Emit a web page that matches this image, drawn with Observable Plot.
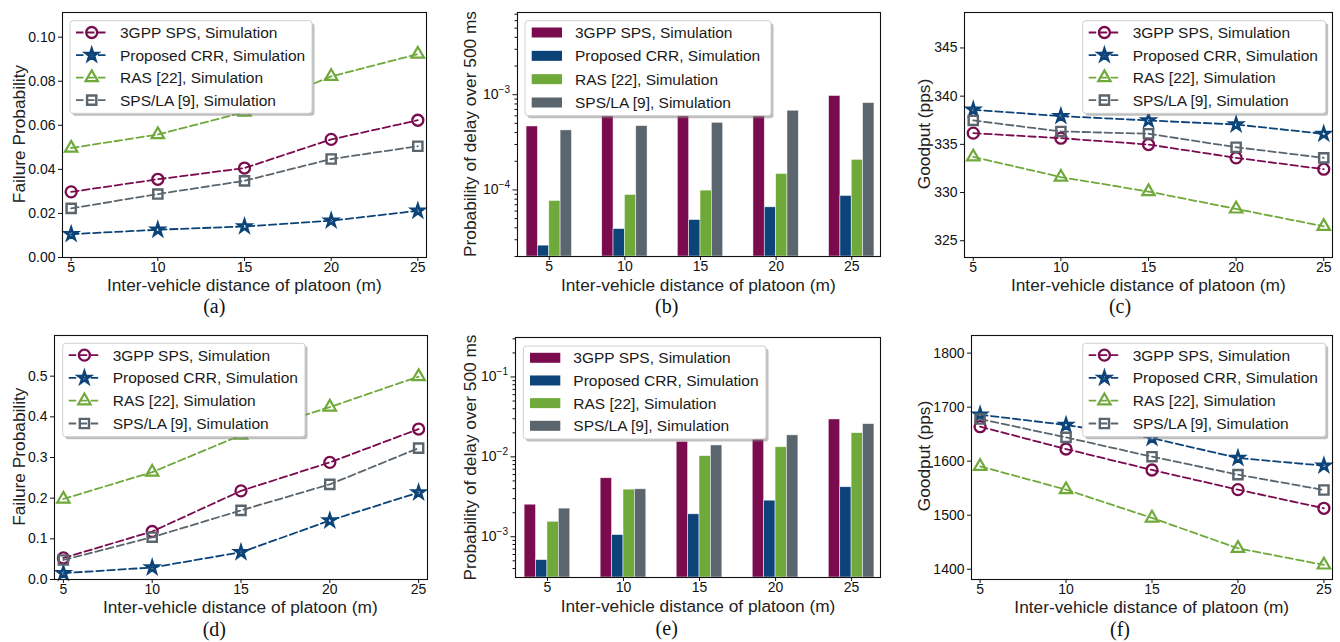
<!DOCTYPE html>
<html>
<head>
<meta charset="utf-8">
<script src="https://cdn.jsdelivr.net/npm/d3@7"></script>
<script src="https://cdn.jsdelivr.net/npm/@observablehq/plot@0.6"></script>
<style>
  html, body { margin: 0; padding: 0; background: white; }
  #page { position: relative; width: 1340px; height: 642px; overflow: hidden; background: white; }
  .panel { position: absolute; }
  #overlay { position: absolute; left: 0; top: 0; pointer-events: none; }
</style>
</head>
<body>
<div id="page"></div>
<script>
// ---------------- data ----------------
const distances = [5, 10, 15, 20, 25];
const seriesNames = ["3GPP SPS, Simulation", "Proposed CRR, Simulation", "RAS [22], Simulation", "SPS/LA [9], Simulation"];
const seriesColors = ["#7a0b4f", "#0c4479", "#6fa93a", "#5b656d"];
const seriesSymbols = ["circle", "star", "triangle", "square"];

// (a) failure probability, low density
const failureLow = [
  [0.0298, 0.0355, 0.0406, 0.0536, 0.0623],
  [0.0106, 0.0126, 0.0141, 0.0167, 0.0212],
  [0.0497, 0.0558, 0.0660, 0.0822, 0.0923],
  [0.0223, 0.0288, 0.0348, 0.0447, 0.0505]
];
// (b) probability of delay over 500 ms, low density
const delayLow = [
  [4.64e-4, 6.3e-4, 7.0e-4, 8.0e-4, 9.7e-4],
  [2.6e-5, 3.88e-5, 4.83e-5, 6.57e-5, 8.65e-5],
  [7.66e-5, 8.86e-5, 9.84e-5, 1.47e-4, 2.07e-4],
  [4.22e-4, 4.68e-4, 5.07e-4, 6.79e-4, 8.17e-4]
];
// (c) goodput, low density
const goodputLow = [
  [336.16, 335.64, 334.98, 333.60, 332.42],
  [338.59, 337.93, 337.48, 337.06, 336.09],
  [333.70, 331.60, 330.10, 328.30, 326.50],
  [337.48, 336.34, 336.10, 334.70, 333.60]
];
// (d) failure probability, high density
const failureHigh = [
  [0.053, 0.118, 0.218, 0.288, 0.370],
  [0.0156, 0.0295, 0.067, 0.145, 0.214],
  [0.198, 0.264, 0.355, 0.424, 0.499],
  [0.048, 0.104, 0.170, 0.234, 0.323]
];
// (e) probability of delay over 500 ms, high density
const delayHigh = [
  [2.52e-3, 5.4e-3, 1.54e-2, 2.1e-2, 2.94e-2],
  [5.1e-4, 1.05e-3, 1.91e-3, 2.83e-3, 4.17e-3],
  [1.54e-3, 3.89e-3, 1.02e-2, 1.32e-2, 1.98e-2],
  [2.25e-3, 3.93e-3, 1.39e-2, 1.86e-2, 2.57e-2]
];
// (f) goodput, high density
const goodputHigh = [
  [1663.8, 1622.5, 1583.7, 1547.3, 1512.8],
  [1686.0, 1666.9, 1642.8, 1605.9, 1591.7],
  [1590.4, 1547.3, 1494.9, 1438.8, 1408.0],
  [1678.0, 1644.0, 1608.3, 1575.0, 1546.7]
];

// tick labels
const failureLowTicks = [0, 0.02, 0.04, 0.06, 0.08, 0.10];
const failureHighTicks = [0, 0.1, 0.2, 0.3, 0.4, 0.5];
const goodputLowTicks = [325, 330, 335, 340, 345];
const goodputHighTicks = [1400, 1500, 1600, 1700, 1800];
const delayLowTicks = [1e-4, 1e-3];
const delayLowMinor = [2e-5,3e-5,4e-5,5e-5,6e-5,7e-5,8e-5,9e-5,2e-4,3e-4,4e-4,5e-4,6e-4,7e-4,8e-4,9e-4,2e-3,3e-3,4e-3,5e-3,6e-3,7e-3];
const delayHighTicks = [1e-3, 1e-2, 1e-1];
const delayHighMinor = [4e-4,5e-4,6e-4,7e-4,8e-4,9e-4,2e-3,3e-3,4e-3,5e-3,6e-3,7e-3,8e-3,9e-3,2e-2,3e-2,4e-2,5e-2,6e-2,7e-2,8e-2,9e-2,2e-1,3e-1];

const xLabel = "Inter-vehicle distance of platoon (m)";
// ---------------- helpers ----------------
const FONT = "'Liberation Sans', Arial, Helvetica, sans-serif";
const symbolRadius = {circle: 5.5, star: 3.7, triangle: 4.6, square: 5.2};
const symbolStroke = {circle: 2.3, star: 2.6, triangle: 2.2, square: 2.4};
const page = document.getElementById("page");

function toRows(values) {
  const rows = [];
  values.forEach((vals, s) => vals.forEach((v, i) => rows.push({s, name: seriesNames[s], dist: distances[i], v})));
  return rows;
}

function place(el, left, top) {
  const div = document.createElement("div");
  div.className = "panel";
  div.style.left = left + "px";
  div.style.top = top + "px";
  div.appendChild(el);
  page.appendChild(div);
}

function linePanel(p) {
  const rows = toRows(p.values);
  const marks = [];
  seriesNames.forEach((name, s) => {
    const d = rows.filter(r => r.s === s);
    const sym = seriesSymbols[s];
    marks.push(Plot.line(d, {x: "dist", y: "v", stroke: seriesColors[s], strokeWidth: 1.8, strokeDasharray: "7.5,3.5"}));
    marks.push(Plot.dot(d, {x: "dist", y: "v", stroke: seriesColors[s], fill: "none", strokeWidth: symbolStroke[sym],
      strokeLinejoin: "miter", symbol: sym, r: symbolRadius[sym]}));
  });
  const chart = Plot.plot({
    width: p.width, height: p.height,
    marginLeft: p.m[0], marginTop: p.m[1], marginRight: p.m[2], marginBottom: p.m[3],
    style: {fontFamily: FONT, fontSize: "14px", color: "#111", background: "transparent", overflow: "visible"},
    x: {domain: [4.5, 25.5]},
    y: {domain: p.yDomain},
    marks: [
      Plot.axisX({ticks: distances, tickSize: 4, tickPadding: 1, label: null, fontSize: 14}),
      Plot.axisY({ticks: p.yTicks, tickFormat: p.yFormat, tickSize: 4, tickPadding: 3, label: null, fontSize: 14}),
      ...marks,
      Plot.frame({stroke: "#111", strokeWidth: 1.1})
    ]
  });
  place(chart, p.left, p.top);
}

function barPanel(p) {
  const rows = toRows(p.values);
  const halfW = 0.375;
  const offsets = [-1.125, -0.375, 0.375, 1.125];
  const chart = Plot.plot({
    width: p.width, height: p.height,
    marginLeft: p.m[0], marginTop: p.m[1], marginRight: p.m[2], marginBottom: p.m[3],
    style: {fontFamily: FONT, fontSize: "14px", color: "#111", background: "transparent", overflow: "visible"},
    x: {domain: [2.9, 26.9]},
    y: {type: "log", domain: p.yDomain},
    color: {domain: seriesNames, range: seriesColors},
    marks: [
      Plot.rect(rows, {
        x1: d => d.dist + offsets[d.s] - halfW,
        x2: d => d.dist + offsets[d.s] + halfW,
        y1: p.yDomain[0], y2: "v",
        fill: "name", stroke: "white", strokeWidth: 0.7, strokeOpacity: 0.7
      }),
      Plot.axisX({ticks: distances, tickSize: 4, tickPadding: 1, label: null, fontSize: 14}),
      Plot.axisY({ticks: p.minor, tickSize: 2.5, tickFormat: () => "", label: null}),
      Plot.axisY({ticks: p.yTicks, tickFormat: d => "10^" + Math.round(Math.log10(d)), tickSize: 4.5, tickPadding: 3, label: null, fontSize: 14}),
      Plot.frame({stroke: "#111", strokeWidth: 1.1})
    ]
  });
  // superscript exponents
  d3.select(chart).selectAll('g[aria-label="y-axis tick label"] text').each(function () {
    const t = this.textContent;
    if (t.startsWith("10^")) {
      const e = t.slice(3).replace("-", "\u2212");
      const sel = d3.select(this);
      sel.text(null);
      sel.append("tspan").text("10");
      sel.append("tspan").attr("dy", "-0.62em").attr("font-size", "10px").text(e);
    }
  });
  place(chart, p.left, p.top);
}

// ---------------- panels ----------------
linePanel({left: 0, top: 0, width: 440, height: 300, m: [62, 12, 14, 43],
  values: failureLow, yDomain: [0, 0.1112], yTicks: failureLowTicks, yFormat: d3.format(".2f")});
barPanel({left: 440, top: 0, width: 450, height: 300, m: [77, 12, 10, 44],
  values: delayLow, yDomain: [2e-5, 7.3e-3], yTicks: delayLowTicks, minor: delayLowMinor});
linePanel({left: 890, top: 0, width: 450, height: 300, m: [74, 12, 8, 43],
  values: goodputLow, yDomain: [323.26, 348.68], yTicks: goodputLowTicks, yFormat: d3.format("d")});
linePanel({left: 0, top: 320, width: 440, height: 280, m: [54, 15, 13, 21],
  values: failureHigh, yDomain: [0, 0.6], yTicks: failureHighTicks, yFormat: d3.format(".1f")});
barPanel({left: 440, top: 320, width: 450, height: 280, m: [75, 17, 10, 23],
  values: delayHigh, yDomain: [3.09e-4, 0.312], yTicks: delayHighTicks, minor: delayHighMinor});
linePanel({left: 890, top: 320, width: 450, height: 280, m: [81, 15, 8, 21],
  values: goodputHigh, yDomain: [1381, 1832.6], yTicks: goodputHighTicks, yFormat: d3.format("d")});

// ---------------- overlay: labels, legends, captions ----------------
const svg = d3.select(page).append("svg").attr("id", "overlay").attr("width", 1340).attr("height", 642);

const xLabels = [[244.3, 285], [698.3, 285], [1148.3, 285], [240.3, 607.3], [698, 605.5], [1151.7, 607.3]];
const yLabels = [["Failure Probability", 18.5, 134], ["Probability of delay over 500 ms", 470, 134], ["Goodput (pps)", 924, 134],
                 ["Failure Probability", 18.5, 456.7], ["Probability of delay over 500 ms", 470, 457.5], ["Goodput (pps)", 924, 456]];
const captions = [["(a)", 214.3, 306], ["(b)", 666.7, 306], ["(c)", 1120, 306], ["(d)", 214.3, 629], ["(e)", 666.7, 628], ["(f)", 1120, 629]];

xLabels.forEach(([x, y]) => svg.append("text").attr("x", x).attr("y", y).attr("dy", "0.35em")
  .attr("text-anchor", "middle").attr("font-family", FONT).attr("font-size", 17.3).attr("fill", "#222").text(xLabel));
yLabels.forEach(([t, x, y]) => svg.append("text").attr("transform", `translate(${x},${y}) rotate(-90)`).attr("dy", "0.35em")
  .attr("text-anchor", "middle").attr("font-family", FONT).attr("font-size", 17.3).attr("fill", "#222").text(t));
captions.forEach(([t, x, y]) => svg.append("text").attr("x", x).attr("y", y).attr("dy", "0.35em")
  .attr("text-anchor", "middle").attr("font-family", "'Liberation Serif', 'Times New Roman', serif").attr("font-size", 20).attr("fill", "#111").text(t));

const d3Symbols = {circle: d3.symbolCircle, star: d3.symbolStar, triangle: d3.symbolTriangle, square: d3.symbolSquare};
const legends = [
  {x: 70, y: 20.7, w: 242, h: 92.6, kind: "line"},
  {x: 525, y: 20.7, w: 246, h: 95, kind: "bar"},
  {x: 1082.7, y: 20.7, w: 243, h: 92.6, kind: "line"},
  {x: 62.7, y: 343.3, w: 242.3, h: 93.4, kind: "line"},
  {x: 523.3, y: 346, w: 242.7, h: 93, kind: "bar"},
  {x: 1082.7, y: 343.3, w: 243, h: 93.4, kind: "line"}
];
legends.forEach(L => {
  const g = svg.append("g");
  g.append("rect").attr("x", L.x + 2.5).attr("y", L.y + 2.5).attr("width", L.w).attr("height", L.h)
    .attr("rx", 3).attr("fill", "#7f7f7f").attr("opacity", 0.5);
  g.append("rect").attr("x", L.x).attr("y", L.y).attr("width", L.w).attr("height", L.h)
    .attr("rx", 3).attr("fill", "white").attr("stroke", "#cfcfcf").attr("stroke-width", 1);
  const step = (L.h - 25) / 3;
  seriesNames.forEach((name, s) => {
    const cy = L.y + 11.8 + s * step;
    if (L.kind === "line") {
      const sym = seriesSymbols[s];
      g.append("line").attr("x1", L.x + 6).attr("x2", L.x + 37.5).attr("y1", cy).attr("y2", cy)
        .attr("stroke", seriesColors[s]).attr("stroke-width", 1.8).attr("stroke-dasharray", "7.5,3.5");
      const r = symbolRadius[sym];
      g.append("path").attr("d", d3.symbol(d3Symbols[sym], Math.PI * r * r)())
        .attr("transform", `translate(${L.x + 21.7},${cy})`).attr("fill", "none")
        .attr("stroke", seriesColors[s]).attr("stroke-width", symbolStroke[sym]).attr("stroke-linejoin", "miter");
    } else {
      g.append("rect").attr("x", L.x + 6.7).attr("y", cy - 5).attr("width", 30.3).attr("height", 10)
        .attr("fill", seriesColors[s]);
    }
    g.append("text").attr("x", L.x + 50).attr("y", cy).attr("dy", "0.36em")
      .attr("font-family", FONT).attr("font-size", 15.5).attr("fill", "#1a1a1a").text(name);
  });
});
</script>
</body>
</html>
